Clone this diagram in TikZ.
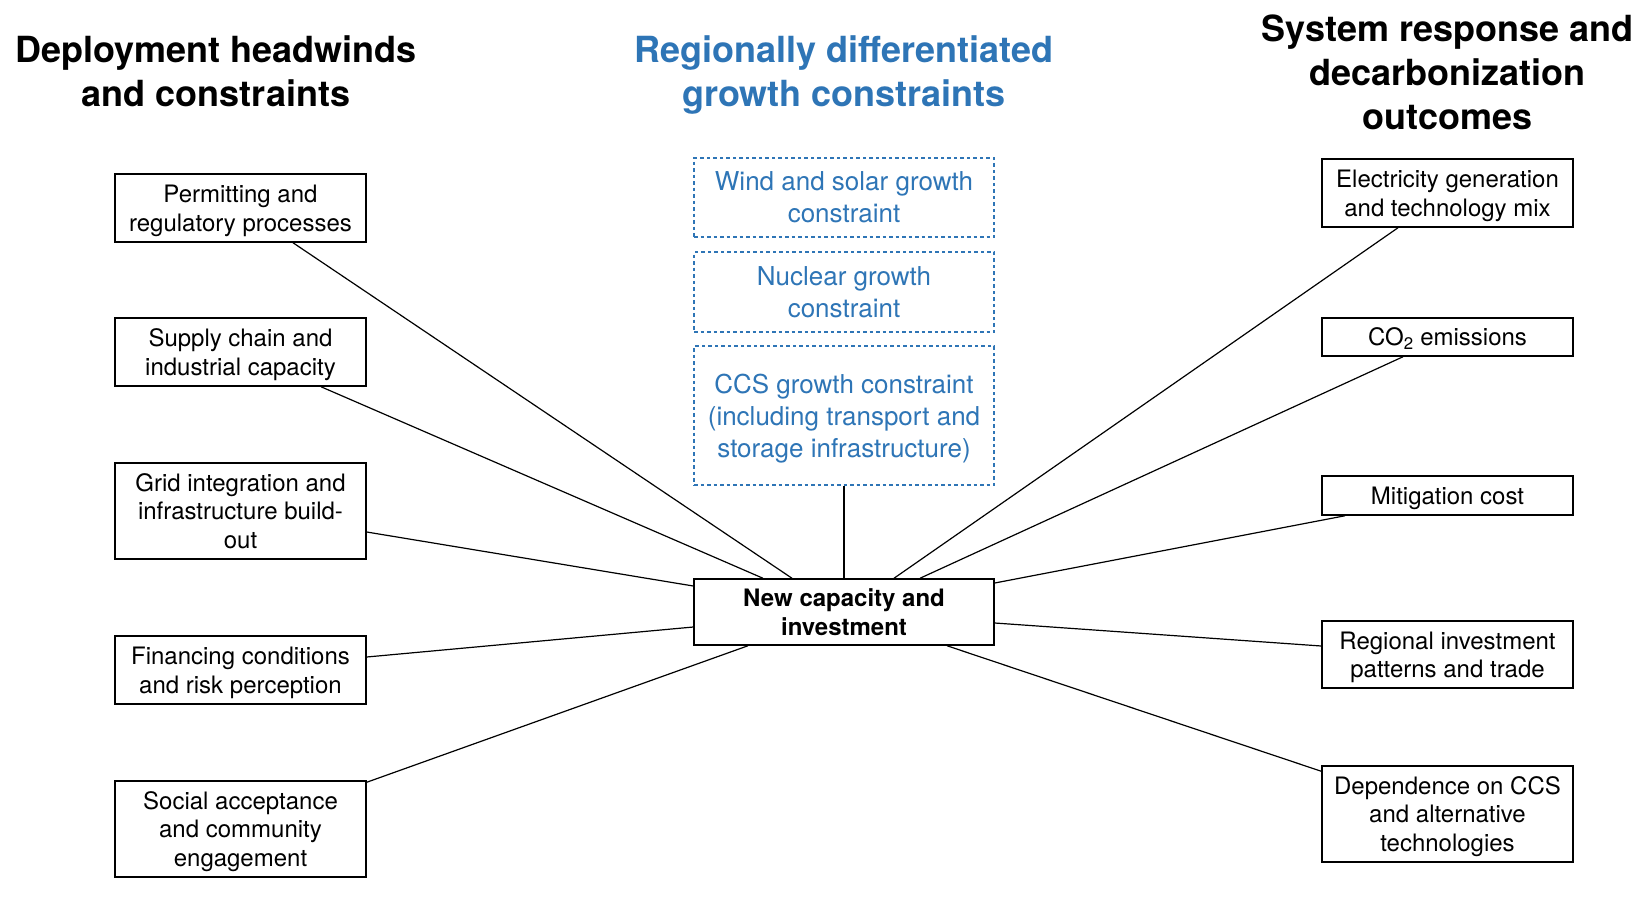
\documentclass[tikz,border=0pt]{standalone}
\usepackage{fontspec}
\setmainfont{TeX Gyre Heros}
\definecolor{cblue}{RGB}{46,117,182}
\begin{document}
\begin{tikzpicture}[x=1pt,y=-1pt,
  box/.style={draw=black, line width=1.5pt, minimum width=251pt, inner sep=0pt, align=center, text depth=0pt, font=\fontsize{24}{28.5}\selectfont},
  cbox/.style={draw=cblue, line width=1.5pt, dash pattern=on 3.5pt off 3pt, minimum width=300pt, inner sep=0pt, align=center, text depth=0pt, text=cblue, font=\fontsize{26}{32}\selectfont},
  hub/.style={draw=black, line width=1.5pt, minimum width=300pt, minimum height=66pt, inner sep=0pt, align=center, text depth=0pt, font=\bfseries\fontsize{24}{28.5}\selectfont},
  ttl/.style={align=center, inner sep=0pt, font=\bfseries\fontsize{36}{44}\selectfont},
  link/.style={line width=1.2pt}]
\useasboundingbox (0,0) rectangle (1652,916);

% titles
\node[ttl] (tl) at (216,71.5) {Deployment headwinds\\and constraints};
\node[ttl, text=cblue] (tc) at (844,75) {Regionally differentiated\\growth constraints};
\node[ttl] (tr) at (1447.5,72) {System response and\\decarbonization\\outcomes};

% left column
\node[box, minimum height=68pt] (perm) at (240.5,208) {Permitting and\\regulatory processes};
\node[box, minimum height=68pt] (supply) at (240.5,352) {Supply chain and\\industrial capacity};
\node[box, minimum height=96pt] (grid) at (240.5,511) {Grid integration and\\infrastructure build-\\out};
\node[box, minimum height=68pt] (fin) at (240.5,670) {Financing conditions\\and risk perception};
\node[box, minimum height=96pt] (social) at (240.5,829) {Social acceptance\\and community\\engagement};

% center column
\node[cbox, minimum height=79pt] (wind) at (844,197.5) {Wind and solar growth\\constraint};
\node[cbox, minimum height=80pt] (nuc) at (844,292) {Nuclear growth\\constraint};
\node[cbox, minimum height=139pt] (ccs) at (844,415.5) {CCS growth constraint\\(including transport and\\storage infrastructure)};
\node[hub] (new) at (844,612) {New capacity and\\investment};

% right column
\node[box, minimum height=68pt] (elec) at (1447.5,193) {Electricity generation\\and technology mix};
\node[box, minimum height=38pt] (co2) at (1447.5,337) {CO\textsubscript{2} emissions};
\node[box, minimum height=39pt] (mit) at (1447.5,495.5) {Mitigation cost};
\node[box, minimum height=67pt] (reg) at (1447.5,654.5) {Regional investment\\patterns and trade};
\node[box, minimum height=96pt] (dep) at (1447.5,814) {Dependence on CCS\\and alternative\\technologies};

% connectors
\draw[link] ([xshift=52.5pt]perm.south) -- ([xshift=-52pt]new.north);
\draw[link] ([xshift=80.5pt]supply.south) -- ([xshift=-81pt]new.north);
\draw[link] ([yshift=-21pt]grid.east) -- ([yshift=26pt]new.west);
\draw[link] ([yshift=13pt]fin.east) -- ([yshift=-15pt]new.west);
\draw[link] ([yshift=-2pt]social.north east) -- ([xshift=-96pt]new.south);
\draw[link] (ccs.south) -- (new.north);
\draw[link] ([xshift=-49.5pt]elec.south) -- ([xshift=50pt]new.north);
\draw[link] ([xshift=-44.5pt]co2.south) -- ([xshift=76pt]new.north);
\draw[link] ([xshift=-102.5pt]mit.south) -- ([yshift=29pt]new.east);
\draw[link] ([yshift=8.5pt]reg.west) -- ([yshift=-11pt]new.east);
\draw[link] ([yshift=-6pt]dep.north west) -- ([xshift=103pt]new.south);
\end{tikzpicture}
\end{document}
